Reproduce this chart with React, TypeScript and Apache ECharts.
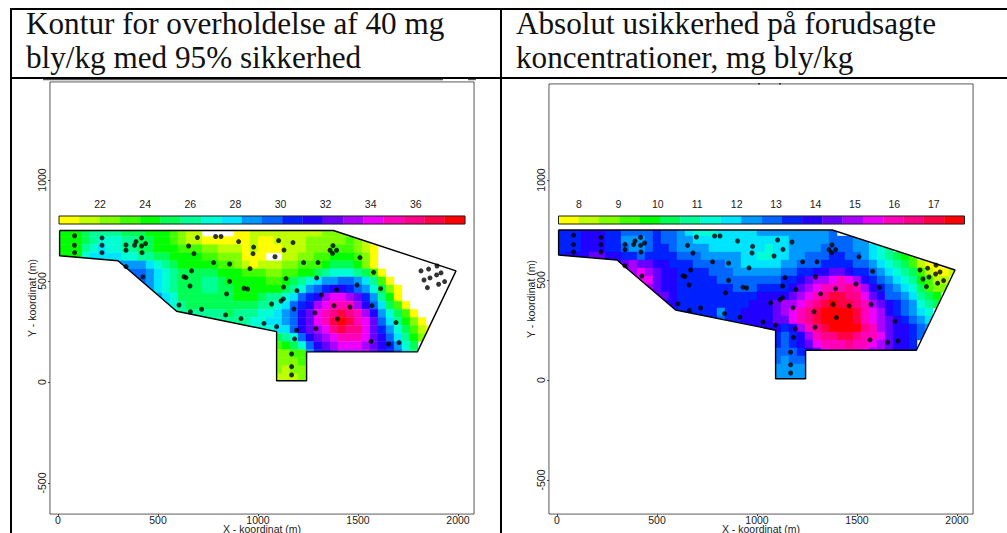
import React, { useEffect, useRef } from "react";
import * as echarts from "echarts";

const palette = ["#ffff00","#bfff00","#80ff00","#40ff00","#00ff00","#00ff55","#00ff95","#00ffd5","#00e5ff","#0099ff","#0066ff","#0022ff","#2200ff","#6600ff","#aa00ff","#ee00ff","#ff00bb","#ff0088","#ff0044","#ff0000"];
const levelChars = "0123456789abcdefghij";

const titleLeft = ["Kontur for overholdelse af 40 mg", "bly/kg med 95% sikkerhed"];
const titleRight = ["Absolut usikkerhed på forudsagte", "koncentrationer, mg bly/kg"];
const xTicks = [0, 500, 1000, 1500, 2000];
const yTicks = [-500, 0, 500, 1000];
const legendTicksLeft = [22, 24, 26, 28, 30, 32, 34, 36];
const legendTicksRight = [8, 9, 10, 11, 12, 13, 14, 15, 16, 17];

const cellSize = 40;
const leftStarts = [0,0,0,0,6,8,10,10,12,13,14,18,22,27,27,27,27,27,27];
const leftRows = [
  "444566665554443211    00111111111222",
  "444567776655443211000000100111122222321",
  "4446787766554443332211101000111222333210",
  "44478888776655444433222000  112233444320",
  "89999876544444" + "33210111223334555420",
  "aaa987655555444333223344567776530",
  "a987655566544444334567899aa98630",
  "a987655566554444445679abccba97520",
  "987555555544456678abceffedb9640",
  "87655555555566" + "78abcefgggeca8530",
  "6666666566677" + "89acdfghihgec97530",
  "6666667788" + "9acdfgijigfda86420",
  "7777788" + "acdefhihhfdb975310",
  "567acdefgggfdca8642",
  "3457acdefffedcb975",
  "22339bcdeeeedcba86",
  "22232",
  "21222",
  "11122",
];
const rightStarts = [0,0,0,0,6,8,10,10,12,13,14,18,22,27,27,27,27,27,27];
const rightRows = [
  "bbbcccbbaaaabaa9877788888999999999a",
  "bbbcccbb999abaa99888888888888" + "99999aaa99",
  "bbbcccbba99abba9999" + "8888888788" + "9999aaaa99876",
  "bcccddccbbabbbbaaa9999988778899aaabbaa9876543",
  "ccdeddccbbbaaaa9988888" + "99aaabbbbaa98765" + "3100",
  "eefedccbbbbaaa999999" + "aabbccddcbba98765" + "31001",
  "ffdccbbbbbaaaaaaaa" + "bbcdeefgfecba98764" + "311",
  "eedccbbbbbbbaaabbbb" + "cdefggghgecba98753" + "22",
  "ddcbbbbbbbbbbcccc" + "defghiihhfdcaa98654",
  "ccbbbbbbbbbccc" + "deefghijiihgedcba9765",
  "bbbbbb9bbcccc" + "defghijjjjigfecba987",
  "bbabbccccdd" + "fghijjjjigfedcba98",
  "bbccccb" + "ceghijjjjhgedccba9",
  "babceghhiihggfdccba",
  "babcdfggghggfedccb",
  "aaabcdfggggfeedccb",
  "a9aaa",
  "99999",
  "99999",
];

const boundaryX = [8, 8, 300, 593, 1093, 1093, 1243, 1243, 1797, 1990, 1377, 8];
const boundaryY = [750, 625, 600, 350, 249, 6, 6, 149, 149, 550, 750, 750];

const sampleX = [83,82,83,220,220,220,340,340,390,383,418,438,418,420,340,425,697,788,815,653,680,903,978,975,778,858,960,668,630,640,858,660,930,948,843,605,662,718,838,915,1085,1103,1175,1130,1228,1300,1375,1360,1393,1373,1510,1578,1293,1140,1128,1195,1068,1127,1115,1180,1030,1093,1193,1183,1168,1168,1168,1318,1393,1495,1613,1380,1460,1570,1285,1397,1290,1565,1653,1705,1690,1895,1815,1853,1915,1893,1830,1860,1933,1903,1847];
const sampleY = [724,677,640,713,677,640,678,652,695,677,713,685,673,640,571,520,715,720,720,673,635,695,668,635,591,584,561,550,521,517,498,475,464,460,436,381,348,360,332,314,620,700,690,653,591,591,675,652,652,637,616,543,515,512,470,452,386,411,401,361,290,274,256,213,139,76,35,431,456,480,462,378,371,378,342,312,264,201,188,195,294,574,550,559,540,530,505,515,497,484,467];

const rowYs = [740,700,660,620,580,540,500,460,420,380,340,300,260,220,180,140,100,60,20];
const legendLowLeft = 20.18, legendStepLeft = 0.9;
const legendLowRight = 7.48, legendStepRight = 0.515;

function cells(rows: string[], starts: number[]) {
  const out: number[][] = [];
  rows.forEach((row, r) => {
    for (let i = 0; i < row.length; i++) {
      const level = levelChars.indexOf(row[i]);
      if (level < 0) continue;
      out.push([(starts[r] + i) * cellSize + cellSize / 2, rowYs[r], level]);
    }
  });
  return out;
}

const heatRender = (_: any, api: any) => {
  const x = api.value(0), y = api.value(1);
  const p0 = api.coord([x - cellSize / 2, y + cellSize / 2]);
  const p1 = api.coord([x + cellSize / 2, y - cellSize / 2]);
  const c = palette[api.value(2)];
  return { type: "rect", shape: { x: p0[0], y: p0[1], width: p1[0] - p0[0], height: p1[1] - p0[1] }, style: { fill: c, stroke: c, lineWidth: 0.4 } };
};

function panel(i: number, opt: any, cfg: any) {
  const g = i * 2, lg = i * 2 + 1;
  const axText = { color: "#222", fontFamily: "Liberation Sans", fontSize: 10.5 };
  const fmt = (v: number) => String(v);
  opt.grid.push(
    { left: cfg.left, top: cfg.top, width: cfg.width, height: cfg.height, outerBoundsMode: "none", show: true, borderColor: "#444", borderWidth: 1, backgroundColor: "#fff" },
    { left: cfg.legLeft, top: 216, width: cfg.legWidth, height: 8, outerBoundsMode: "none", show: false },
  );
  opt.xAxis.push(
    { gridIndex: g, type: "value", z: 10, min: cfg.xMin, max: cfg.xMax, splitLine: { show: false },
      axisLine: { show: false, onZero: false }, axisTick: { show: true, length: 2, customValues: xTicks, lineStyle: { color: "#444" } },
      axisLabel: { ...axText, margin: 0, customValues: xTicks, hideOverlap: false, formatter: fmt },
      name: "X - koordinat (m)", nameLocation: "middle", nameGap: 9, nameMoveOverlap: false, nameTextStyle: axText },
    { gridIndex: lg, type: "value", z: 10, position: "top", min: cfg.legLow, max: cfg.legLow + 20 * cfg.legStep, splitLine: { show: false },
      axisLine: { show: false, onZero: false }, axisTick: { show: false },
      axisLabel: { ...axText, margin: 7, customValues: cfg.legTicks, formatter: fmt } },
  );
  opt.yAxis.push(
    { gridIndex: g, type: "value", z: 10, min: cfg.yMin, max: cfg.yMax, splitLine: { show: false },
      axisLine: { show: false, onZero: false }, axisTick: { show: true, length: 2, customValues: yTicks, lineStyle: { color: "#444" } },
      axisLabel: { ...axText, rotate: 90, margin: 3, customValues: yTicks, hideOverlap: false, formatter: fmt },
      name: "Y - koordinat (m)", nameLocation: "middle", nameGap: 13, nameMoveOverlap: false, nameTextStyle: axText },
    { gridIndex: lg, type: "value", min: 0, max: 1, show: false },
  );
  const axes = { xAxisIndex: g, yAxisIndex: g };
  opt.series.push(
    { type: "custom", ...axes, z: 2, clip: true, data: cells(cfg.rows, cfg.starts), encode: { x: 0, y: 1 }, renderItem: heatRender },
    { type: "custom", ...axes, z: 3, clip: false, data: [[0, 0]], renderItem: (_: any, api: any) => {
        const inset = 4;
        const outer = [[cfg.xMin + inset, cfg.yMax - inset], [cfg.xMax - inset, cfg.yMax - inset], [cfg.xMax - inset, cfg.yMin + inset], [cfg.xMin + inset, cfg.yMin + inset], [cfg.xMin + inset, cfg.yMax - inset]];
        const ring = boundaryX.map((x, k) => [x, boundaryY[k]]);
        const pts = [...outer, ...ring, outer[0]].map((p) => api.coord(p));
        return { type: "polygon", shape: { points: pts }, style: { fill: "#fff" } };
      } },
    { type: "line", ...axes, z: 4, symbol: "none", silent: true, data: boundaryX.map((x, k) => [x, boundaryY[k]]), lineStyle: { color: "#000", width: 1.4 } },
    { type: "scatter", ...axes, z: 5, symbol: "circle", symbolSize: 5, data: sampleX.map((x, k) => [x, sampleY[k]]), itemStyle: { color: "#000" } },
    { type: "custom", xAxisIndex: lg, yAxisIndex: lg, z: 6, clip: false, data: palette.map((_, k) => [cfg.legLow + k * cfg.legStep, k]), renderItem: (_: any, api: any) => {
        const a = api.coord([api.value(0), 1]);
        const b = api.coord([api.value(0) + cfg.legStep, 0]);
        const c = palette[api.value(1)];
        return { type: "rect", shape: { x: a[0], y: a[1], width: b[0] - a[0], height: b[1] - a[1] }, style: { fill: c, stroke: c, lineWidth: 0.3 } };
      } },
    { type: "custom", xAxisIndex: lg, yAxisIndex: lg, z: 7, clip: false, data: [[cfg.legLow, 0]], renderItem: (_: any, api: any) => {
        const a = api.coord([cfg.legLow, 1]);
        const b = api.coord([cfg.legLow + 20 * cfg.legStep, 0]);
        return { type: "rect", shape: { x: a[0], y: a[1], width: b[0] - a[0], height: b[1] - a[1] }, style: { fill: "none", stroke: "#222", lineWidth: 1 } };
      } },
  );
}

function titleText(lines: string[], x: number) {
  return lines.map((t, k) => ({ type: "text", z: 100, style: { text: t, x, y: k === 0 ? 8 : 41.5, fill: "#111", font: "31.2px 'Liberation Serif'" } }));
}
function bar(x: number, y: number, width: number, height: number, fill = "#000") {
  return { type: "rect", z: 101, shape: { x, y, width, height }, style: { fill } };
}

export default function App() {
  const ref = useRef<HTMLDivElement>(null);
  useEffect(() => {
    document.body.style.margin = "0";
    const chart = echarts.init(ref.current!, undefined, { renderer: "svg" });
    const opt: any = { animation: false, backgroundColor: "#fff", grid: [], xAxis: [], yAxis: [], series: [] };
    panel(0, opt, { left: 50, top: 82, width: 424, height: 432, xMin: -40, xMax: 2080, yMin: -653.5, yMax: 1485, legLeft: 59, legWidth: 406, legLow: legendLowLeft, legStep: legendStepLeft, legTicks: legendTicksLeft, rows: leftRows, starts: leftStarts });
    panel(1, opt, { left: 549, top: 84, width: 424, height: 430, xMin: -40, xMax: 2080, yMin: -670, yMax: 1480, legLeft: 558.5, legWidth: 406, legLow: legendLowRight, legStep: legendStepRight, legTicks: legendTicksRight, rows: rightRows, starts: rightStarts });
    opt.graphic = [
      { type: "rect", z: 99, shape: { x: 0, y: 0, width: 1007, height: 78 }, style: { fill: "#fff" } },
      ...titleText(titleLeft, 26),
      ...titleText(titleRight, 516),
      bar(10, 8, 997, 2), bar(10, 77, 997, 2), bar(10, 8, 2, 525), bar(500, 8, 2, 525),
      bar(43, 79, 400, 1.2, "#555"), bar(468, 79, 8, 1.2, "#555"), bar(758, 83, 2, 1.5, "#333"), bar(779, 83, 2, 1.5, "#333"),
    ];
    chart.setOption(opt);
    return () => chart.dispose();
  }, []);
  return <div ref={ref} style={{ position: "absolute", left: 0, top: 0, width: 1007, height: 533 }} />;
}
